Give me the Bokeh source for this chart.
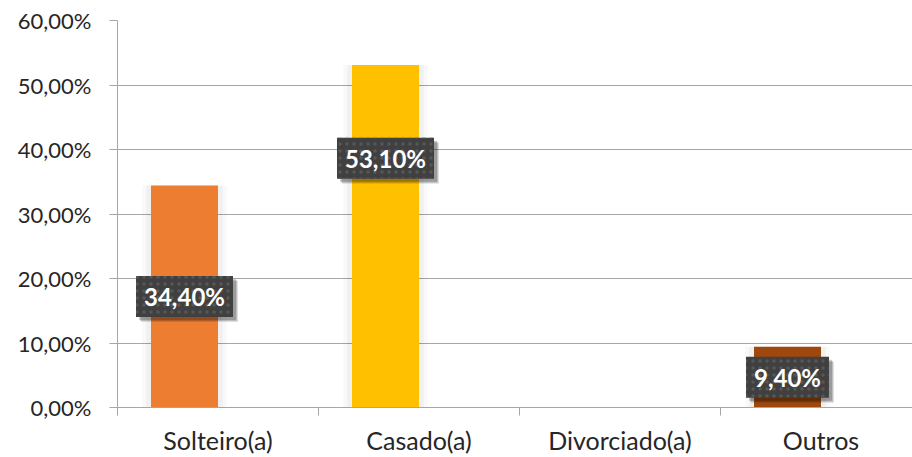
from bokeh.plotting import figure
from bokeh.models import Range1d, FixedTicker, ColumnDataSource
from bokeh.transform import dodge
from bokeh.core.properties import value
from bokeh.embed import file_html
from bokeh.resources import INLINE

categories = ["Solteiro(a)", "Casado(a)", "Divorciado(a)", "Outros"]
values = [34.40, 53.10, 0.0, 9.40]
labels = ["34,40%", "53,10%", "", "9,40%"]
colors = ["#ED7D31", "#FFC000", "#A5A5A5", "#9E480E"]
y_ticks = [0, 10, 20, 30, 40, 50, 60]
y_tick_labels = ["0,00%", "10,00%", "20,00%", "30,00%", "40,00%", "50,00%", "60,00%"]
# vertical position of each data label as a fraction of its bar's value
label_frac = [0.5, 0.728, 0.5, 0.5]

W, H = 912, 457
LEFT, TOP, BOTTOM = 117, 20, 49
cat_px = 201.0
x_end = (W - LEFT) / cat_px
px_per_y = (H - TOP - BOTTOM) / 60.0

p = figure(width=W, height=H, output_backend="svg", toolbar_location=None,
           x_range=Range1d(0, x_end), y_range=Range1d(0, 60),
           min_border_left=LEFT, min_border_right=0, min_border_top=TOP, min_border_bottom=BOTTOM)
p.outline_line_color = None
p.background_fill_color = "white"
p.border_fill_color = "white"

idx = list(range(len(categories)))
bar_x = [i + 1/3 for i in idx]
src = ColumnDataSource(dict(x=bar_x, top=values, color=colors))

# faint glow around bars
for w, a in [(0.42, 0.025), (0.38, 0.035)]:
    p.vbar(x="x", top="top", width=w, source=src, fill_color="black", fill_alpha=a, line_color=None)
p.vbar(x="x", top="top", width=1/3, source=src, fill_color="color", line_color=None)

# data labels
lx, ly, lt, lw = [], [], [], []
for i in idx:
    if labels[i]:
        lx.append(bar_x[i])
        ly.append(values[i] * label_frac[i])
        lt.append(labels[i])
        lw.append(14 * len(labels[i]) + 13)
lsrc = ColumnDataSource(dict(x=lx, y=ly, text=lt, w=lw))

for d, a in [(5, 0.12), (4, 0.15), (3, 0.18)]:
    p.rect(x=dodge("x", d / cat_px), y=dodge("y", -d / px_per_y), width="w", height=41,
           width_units="screen", height_units="screen", source=lsrc,
           fill_color="black", fill_alpha=a, line_color=None)
p.rect(x="x", y="y", width="w", height=41, width_units="screen", height_units="screen",
       source=lsrc, fill_color="#404040", line_color=None,
       hatch_pattern="dot", hatch_color="#575757", hatch_scale=7, hatch_weight=1.5)
p.text(x="x", y="y", text="text", source=lsrc, text_align="center", text_baseline="middle",
       text_color="white", text_font=value("Lato"), text_font_style="bold", text_font_size="24px")

# axes
grid_col = "#A6A6A6"
p.xgrid.visible = False
p.ygrid.grid_line_color = grid_col
p.ygrid.grid_line_width = 1
p.ygrid.ticker = FixedTicker(ticks=y_ticks)

yax = p.yaxis[0]
yax.ticker = FixedTicker(ticks=y_ticks)
yax.major_label_overrides = {t: l for t, l in zip(y_ticks, y_tick_labels)}
yax.axis_line_color = grid_col
yax.major_tick_line_color = grid_col
yax.major_tick_out = 8
yax.major_tick_in = 0
yax.minor_tick_line_color = None
yax.major_label_text_font = "Lato"
yax.major_label_text_font_size = "22px"
yax.major_label_text_color = "#262626"
yax.major_label_standoff = 18

xax = p.xaxis[0]
centers = [i + 0.5 for i in idx]
xax.ticker = FixedTicker(ticks=centers, minor_ticks=[0, 1, 2, 3, 4])
xax.major_label_overrides = {c: n for c, n in zip(centers, categories)}
xax.axis_line_color = grid_col
xax.major_tick_out = 0
xax.major_tick_in = 0
xax.major_tick_line_color = None
xax.minor_tick_line_color = grid_col
xax.minor_tick_out = 8
xax.minor_tick_in = 0
xax.major_label_text_font = "Lato"
xax.major_label_text_font_size = "25px"
xax.major_label_text_color = "#262626"
xax.major_label_standoff = 9

open("out.html", "w").write(file_html(p, INLINE))
